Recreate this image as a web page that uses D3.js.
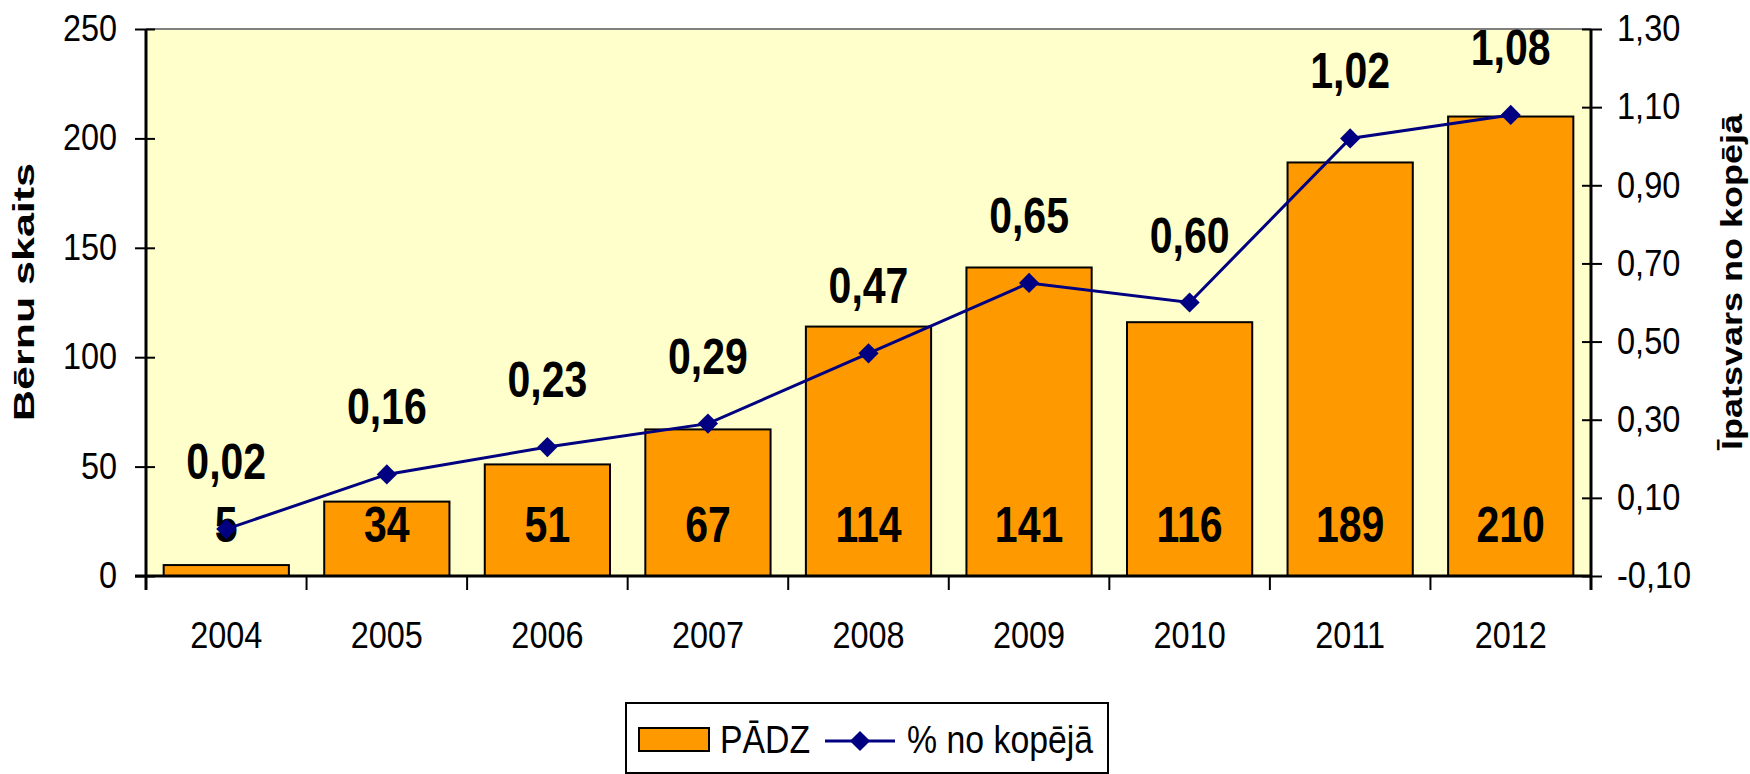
<!DOCTYPE html>
<html>
<head>
<meta charset="utf-8">
<script src="https://cdnjs.cloudflare.com/ajax/libs/d3/7.8.5/d3.min.js"></script>
<style>
  body{margin:0;background:#fff;}
  svg text{font-family:"Liberation Sans",Arial,sans-serif;fill:#000;}
</style>
</head>
<body>
<div id="chart"></div>
<script>
var years=["2004","2005","2006","2007","2008","2009","2010","2011","2012"];
var children=[5,34,51,67,114,141,116,189,210];
var share=[0.02,0.16,0.23,0.29,0.47,0.65,0.60,1.02,1.08];
var leftTicks=[0,50,100,150,200,250];
var rightTicks=[-0.1,0.1,0.3,0.5,0.7,0.9,1.1,1.3];
var seriesNames=["PĀDZ","% no kopējā"];
var axisTitles=["Bērnu skaits","Īpatsvars no kopējā"];

var W=1750,H=774;
var pLeft=146,pRight=1591,pTop=29,pBottom=576;
var barColor="#ff9900",lineColor="#000080",plotBg="#ffffcc";

var comma=function(v){return d3.format(".2f")(v).replace(".",",").replace("\u2212","-");};

// squash glyphs horizontally, the picture text is narrower than Arial
function squeeze(sel,k){
	sel.each(function(){
		var w=this.getComputedTextLength();
		this.setAttribute("textLength",w*k);
		this.setAttribute("lengthAdjust","spacingAndGlyphs");
	});
}

var svg=d3.select("#chart").append("svg").attr("width",W).attr("height",H);

var x=d3.scaleBand().domain(years).range([pLeft,pRight]).padding(0);
var y=d3.scaleLinear().domain([0,250]).range([pBottom,pTop]);
var y2=d3.scaleLinear().domain([-0.1,1.3]).range([pBottom,pTop]);
var barW=x.bandwidth()*0.78;

// plot area
svg.append("rect").attr("x",pLeft).attr("y",pTop).attr("width",pRight-pLeft).attr("height",pBottom-pTop)
	.attr("fill",plotBg);
svg.append("line").attr("x1",pLeft).attr("x2",pRight).attr("y1",pTop).attr("y2",pTop)
	.attr("stroke","#808080").attr("stroke-width",2);

// bars
svg.selectAll("rect.bar").data(children).enter().append("rect").attr("class","bar")
	.attr("x",function(d,i){return x(years[i])+(x.bandwidth()-barW)/2;})
	.attr("y",function(d){return y(d);})
	.attr("width",barW)
	.attr("height",function(d){return y(0)-y(d);})
	.attr("fill",barColor).attr("stroke","#000").attr("stroke-width",2);

// bar value labels
svg.selectAll("text.bv").data(children).enter().append("text").attr("class","bv")
	.attr("x",function(d,i){return x(years[i])+x.bandwidth()/2;})
	.attr("y",542)
	.attr("text-anchor","middle").attr("font-size",50).attr("font-weight","bold")
	.text(function(d){return d;})
	.call(squeeze,0.82);

// left axis
var gl=svg.append("g").attr("transform","translate("+pLeft+",0)")
	.call(d3.axisLeft(y).tickValues(leftTicks).tickSize(11).tickPadding(18));
gl.select(".domain").remove();
gl.selectAll(".tick line").attr("x1",9).attr("stroke","#000").attr("stroke-width",2);
gl.selectAll(".tick text").attr("font-size",36).attr("font-family",null).call(squeeze,0.9);
svg.append("line").attr("x1",pLeft).attr("x2",pLeft).attr("y1",pTop).attr("y2",pBottom+14)
	.attr("stroke","#000").attr("stroke-width",3);

// right axis
var gr=svg.append("g").attr("transform","translate("+pRight+",0)")
	.call(d3.axisRight(y2).tickValues(rightTicks).tickSize(11).tickPadding(15).tickFormat(comma));
gr.select(".domain").remove();
gr.selectAll(".tick line").attr("x1",-9).attr("stroke","#000").attr("stroke-width",2);
gr.selectAll(".tick text").attr("font-size",37).attr("font-family",null).call(squeeze,0.88);
svg.append("line").attr("x1",pRight).attr("x2",pRight).attr("y1",pTop).attr("y2",pBottom+14)
	.attr("stroke","#000").attr("stroke-width",3);

// x axis
var gx=svg.append("g").attr("transform","translate(0,"+pBottom+")")
	.call(d3.axisBottom(x).tickSize(0).tickPadding(46));
gx.select(".domain").remove();
gx.selectAll(".tick text").attr("font-size",36).attr("font-family",null).call(squeeze,0.9);
svg.append("line").attr("x1",pLeft-11).attr("x2",pRight).attr("y1",pBottom).attr("y2",pBottom)
	.attr("stroke","#000").attr("stroke-width",3);
svg.selectAll("line.xt").data(years.slice(1)).enter().append("line").attr("class","xt")
	.attr("x1",function(d){return x(d);}).attr("x2",function(d){return x(d);})
	.attr("y1",pBottom).attr("y2",pBottom+14)
	.attr("stroke","#000").attr("stroke-width",2);

// share line
var cx=function(d,i){return x(years[i])+x.bandwidth()/2;};
svg.append("path").datum(share)
	.attr("d",d3.line().x(cx).y(function(d){return y2(d);}))
	.attr("fill","none").attr("stroke",lineColor).attr("stroke-width",3);
var diamond=d3.symbol().type(d3.symbolDiamond2).size(260);
svg.selectAll("path.mk").data(share).enter().append("path").attr("class","mk")
	.attr("transform",function(d,i){return "translate("+cx(d,i)+","+y2(d)+")";})
	.attr("d",diamond).attr("fill",lineColor);

// share labels
svg.selectAll("text.sv").data(share).enter().append("text").attr("class","sv")
	.attr("x",cx)
	.attr("y",function(d){return y2(d)-50;})
	.attr("text-anchor","middle").attr("font-size",50).attr("font-weight","bold")
	.text(comma)
	.call(squeeze,0.82);

// axis titles
svg.append("text").attr("transform","translate(34,292) rotate(-90)")
	.attr("text-anchor","middle").attr("font-size",30).attr("font-weight","bold")
	.attr("textLength",258).attr("lengthAdjust","spacingAndGlyphs")
	.text(axisTitles[0]);
svg.append("text").attr("transform","translate(1742,282) rotate(-90)")
	.attr("text-anchor","middle").attr("font-size",30).attr("font-weight","bold")
	.attr("textLength",336).attr("lengthAdjust","spacingAndGlyphs")
	.text(axisTitles[1]);

// legend
var lg=svg.append("g");
lg.append("rect").attr("x",626).attr("y",703).attr("width",482).attr("height",70)
	.attr("fill","#fff").attr("stroke","#000").attr("stroke-width",2);
lg.append("rect").attr("x",639).attr("y",728).attr("width",70).attr("height",23)
	.attr("fill",barColor).attr("stroke","#000").attr("stroke-width",2);
lg.append("text").attr("x",720).attr("y",753).attr("font-size",38).text(seriesNames[0]).call(squeeze,0.89);
lg.append("line").attr("x1",825).attr("x2",895).attr("y1",741).attr("y2",741)
	.attr("stroke",lineColor).attr("stroke-width",3);
lg.append("path").attr("transform","translate(860,741)").attr("d",diamond).attr("fill",lineColor);
lg.append("text").attr("x",907).attr("y",753).attr("font-size",38).text(seriesNames[1]).call(squeeze,0.89);
</script>
</body>
</html>
